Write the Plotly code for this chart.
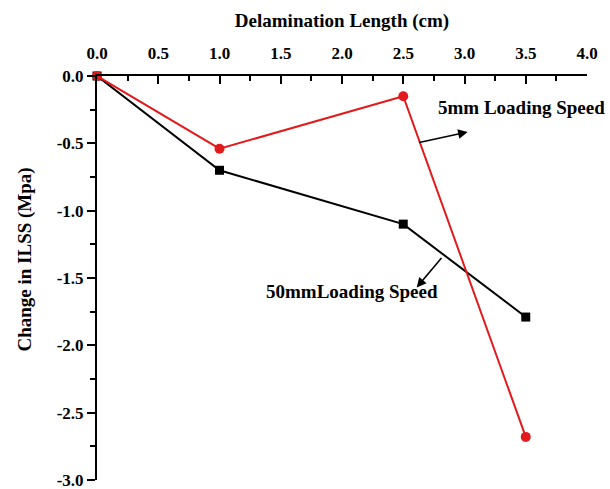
import plotly.graph_objects as go

delam_length = [0.0, 1.0, 2.5, 3.5]
ilss_5mm = [0.0, -0.54, -0.15, -2.68]
ilss_50mm = [0.0, -0.70, -1.10, -1.79]

x_tickvals = [0.0, 0.5, 1.0, 1.5, 2.0, 2.5, 3.0, 3.5, 4.0]
x_ticktext = ["0.0", "0.5", "1.0", "1.5", "2.0", "2.5", "3.0", "3.5", "4.0"]
y_tickvals = [0.0, -0.5, -1.0, -1.5, -2.0, -2.5, -3.0]
y_ticktext = ["0.0", "-0.5", "-1.0", "-1.5", "-2.0", "-2.5", "-3.0"]

FONT = "Liberation Serif"

fig = go.Figure()
fig.add_trace(go.Scatter(x=delam_length, y=ilss_50mm, mode="lines+markers",
                         line=dict(color="black", width=2),
                         marker=dict(symbol="square", size=9, color="black"),
                         cliponaxis=False, name="50mm"))
fig.add_trace(go.Scatter(x=delam_length, y=ilss_5mm, mode="lines+markers",
                         line=dict(color="#e31a1c", width=2),
                         marker=dict(symbol="circle", size=10, color="#e31a1c"),
                         cliponaxis=False, name="5mm"))

fig.update_layout(
    width=610, height=489,
    margin=dict(l=97, r=23, t=76, b=9),
    paper_bgcolor="white", plot_bgcolor="white",
    showlegend=False,
    font=dict(family=FONT, color="black", size=17),
    xaxis=dict(
        side="top", range=[0, 4], automargin=False,
        tickmode="array", tickvals=x_tickvals,
        ticktext=["<b>%s</b>" % t for t in x_ticktext],
        showline=True, linecolor="black", linewidth=2,
        ticks="inside", ticklen=8, tickwidth=2, tickcolor="black",
        ticklabelstandoff=8, ticklabeloverflow="allow",
        minor=dict(dtick=0.25, ticks="inside", ticklen=5, tickwidth=2, tickcolor="black", showgrid=False),
        showgrid=False, zeroline=False,
        tickfont=dict(family=FONT, size=17, color="black"),
        title=dict(text="<b>Delamination Length (cm)</b>", font=dict(family=FONT, size=19), standoff=12),
    ),
    yaxis=dict(
        range=[-3, 0], automargin=False,
        tickmode="array", tickvals=y_tickvals,
        ticktext=["<b>%s</b>" % t for t in y_ticktext],
        showline=True, linecolor="black", linewidth=2,
        ticks="outside", ticklen=8, tickwidth=2, tickcolor="black",
        ticklabeloverflow="allow",
        minor=dict(dtick=0.25, ticks="outside", ticklen=5, tickwidth=2, tickcolor="black", showgrid=False),
        showgrid=False, zeroline=False,
        tickfont=dict(family=FONT, size=17, color="black"),
    ),
)

# y-axis title placed as a rotated annotation (slightly above the axis centre, as in the reference)
fig.add_annotation(xref="paper", yref="paper", x=-0.174, y=0.545, textangle=-90,
                   text="<b>Change in ILSS (Mpa)</b>", showarrow=False,
                   font=dict(family=FONT, size=19, color="black"))

fig.add_annotation(x=4.0, xanchor="right", y=-0.237, text="<b>5mm Loading Speed</b>", showarrow=False,
                   font=dict(family=FONT, size=19, color="black"), xshift=20)
fig.add_annotation(x=3.026, y=-0.415, ax=-50, ay=11, text="", showarrow=True,
                   arrowhead=2, arrowsize=1.2, arrowwidth=1.6, arrowcolor="black")
fig.add_annotation(x=2.08, y=-1.6, text="<b>50mmLoading Speed</b>", showarrow=False,
                   font=dict(family=FONT, size=19, color="black"))
fig.add_annotation(x=2.61, y=-1.57, ax=26, ay=-31, text="", showarrow=True,
                   arrowhead=2, arrowsize=1.2, arrowwidth=1.6, arrowcolor="black")

fig.write_html("out.html", config={"displayModeBar": False},
               post_script="document.body.style.margin='0';")
